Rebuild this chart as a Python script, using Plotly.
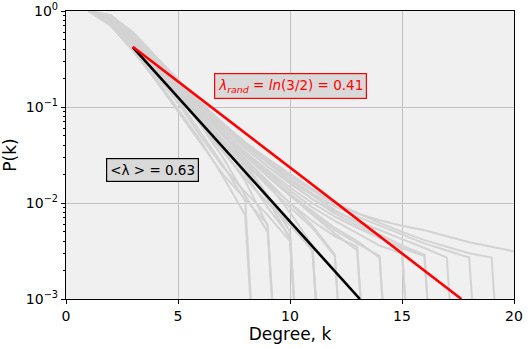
import plotly.graph_objects as go

# Degree distributions (P(k) at k = 1, 2, ...; trailing 0 = drop to zero)
curves = [
    [1, 0.72, 0.40, 0.20, 0.095, 0.045, 0.019, 0.0075, 0],
    [1, 0.78, 0.45, 0.24, 0.12, 0.055, 0.025, 0.0105, 0],
    [1, 0.70, 0.38, 0.19, 0.09, 0.042, 0.020, 0.011, 0.006, 0],
    [1, 0.80, 0.47, 0.25, 0.13, 0.065, 0.030, 0.012, 0.005, 0],
    [1, 0.85, 0.50, 0.27, 0.14, 0.070, 0.036, 0.017, 0.0058, 0],
    [1, 0.83, 0.48, 0.26, 0.14, 0.075, 0.040, 0.020, 0.009, 0.0045, 0],
    [1, 0.88, 0.52, 0.28, 0.15, 0.080, 0.042, 0.022, 0.011, 0.0042, 0],
    [1, 0.76, 0.43, 0.22, 0.11, 0.050, 0.024, 0.013, 0.0075, 0.0040, 0],
    [1, 0.90, 0.60, 0.34, 0.19, 0.100, 0.052, 0.026, 0.012, 0.0050, 0],
    [1, 0.86, 0.51, 0.29, 0.16, 0.085, 0.046, 0.024, 0.012, 0.0060, 0.0032, 0],
    [1, 0.90, 0.54, 0.30, 0.165, 0.090, 0.050, 0.028, 0.016, 0.0080, 0.0036, 0],
    [1, 0.82, 0.47, 0.25, 0.13, 0.066, 0.034, 0.018, 0.010, 0.0058, 0.0034, 0],
    [1, 0.87, 0.52, 0.29, 0.155, 0.085, 0.046, 0.026, 0.015, 0.0090, 0.0055, 0.0028, 0],
    [1, 0.89, 0.55, 0.31, 0.17, 0.094, 0.052, 0.029, 0.017, 0.010, 0.0058, 0.0029, 0],
    [1, 0.84, 0.50, 0.28, 0.15, 0.080, 0.045, 0.026, 0.016, 0.010, 0.0065, 0.0045, 0.0035, 0],
    [1, 0.90, 0.53, 0.30, 0.165, 0.092, 0.052, 0.031, 0.019, 0.012, 0.0075, 0.0048, 0.0032, 0],
    [1, 0.88, 0.52, 0.29, 0.16, 0.090, 0.052, 0.031, 0.019, 0.012, 0.0078, 0.0052, 0.0038, 0.0028, 0],
    [1, 0.90, 0.56, 0.32, 0.18, 0.100, 0.057, 0.033, 0.020, 0.0125, 0.0082, 0.0055, 0.0040, 0.0027, 0],
    [1, 0.89, 0.53, 0.30, 0.17, 0.096, 0.056, 0.034, 0.021, 0.0135, 0.0090, 0.0065, 0.0048, 0.0036, 0.0030, 0],
    [1, 0.90, 0.55, 0.31, 0.175, 0.100, 0.060, 0.037, 0.024, 0.016, 0.011, 0.0078, 0.0058, 0.0045, 0.0033, 0],
    [1, 0.87, 0.51, 0.29, 0.165, 0.095, 0.056, 0.034, 0.022, 0.0145, 0.010, 0.0072, 0.0055, 0.0043, 0.0034, 0.0028, 0],
    [1, 0.90, 0.57, 0.33, 0.19, 0.110, 0.065, 0.040, 0.026, 0.017, 0.012, 0.0085, 0.0062, 0.0047, 0.0036, 0.0029, 0],
    [1, 0.90, 0.54, 0.31, 0.18, 0.104, 0.062, 0.038, 0.024, 0.016, 0.011, 0.0082, 0.0065, 0.0052, 0.0042, 0.0034, 0.0027, 0],
    [1, 0.90, 0.56, 0.32, 0.185, 0.108, 0.065, 0.041, 0.027, 0.018, 0.0125, 0.0092, 0.0072, 0.0058, 0.0047, 0.0038, 0.0032, 0.0027, 0],
    [1, 0.89, 0.55, 0.32, 0.185, 0.110, 0.067, 0.043, 0.029, 0.020, 0.014, 0.010, 0.0078, 0.0062, 0.0050, 0.0041, 0.0035, 0.0030, 0.0027, 0],
    [1, 0.88, 0.57, 0.33, 0.19, 0.112, 0.068, 0.043, 0.028, 0.019, 0.0135, 0.0098, 0.0078, 0.0066, 0.0058, 0.0052, 0.0045, 0.0039, 0.0035, 0.0031, 0.0028],
]

# Fitted exponential lines (endpoints)
rand_k = [2.98, 17.65]
rand_p = [0.425, 0.001]
mean_k = [2.98, 13.12]
mean_p = [0.42, 0.001]

y_tick_vals = [1e-3, 1e-2, 1e-1, 1]
y_tick_text = ["10<sup>\u22123</sup>", "10<sup>\u22122</sup>", "10<sup>\u22121</sup>", "10<sup>0</sup>"]
x_tick_vals = [0, 5, 10, 15, 20]

CLIP = 1e-6  # stand-in for zero on the log axis (like matplotlib clipping)

fig = go.Figure()
for c in curves:
    ks = list(range(1, len(c) + 1))
    ps = [v if v > 0 else CLIP for v in c]
    fig.add_trace(go.Scatter(x=ks, y=ps, mode="lines",
                             line=dict(color="#d3d3d3", width=2),
                             showlegend=False, hoverinfo="skip"))

fig.add_trace(go.Scatter(x=mean_k, y=mean_p, mode="lines",
                         line=dict(color="black", width=2.6), showlegend=False))
fig.add_trace(go.Scatter(x=rand_k, y=rand_p, mode="lines",
                         line=dict(color="#ff0000", width=2.6), showlegend=False))

minor_vals = []
for d in [1e-3, 1e-2, 1e-1]:
    for m in range(2, 10):
        minor_vals.append(m * d)

font = dict(family="DejaVu Sans", size=14, color="black")

fig.update_layout(
    width=529, height=348,
    margin=dict(l=66, r=15, t=11, b=49),
    paper_bgcolor="white",
    plot_bgcolor="#f0f0f0",
    font=font,
    xaxis=dict(range=[0, 20], tickvals=x_tick_vals, ticks="outside", ticklen=4,
               tickcolor="black", showline=True, linecolor="black", linewidth=1.2,
               mirror=True, showgrid=True, gridcolor="#c2c2c2", gridwidth=1,
               zeroline=False, automargin=False,
               title=dict(text="Degree, k", standoff=4),
               tickfont=font),
    yaxis=dict(type="log", range=[-3, 0], tickvals=y_tick_vals, ticktext=y_tick_text,
               ticks="outside", ticklen=4, tickcolor="black", showline=True,
               linecolor="black", linewidth=1.2, mirror=True, showgrid=True,
               gridcolor="#c2c2c2", gridwidth=1, zeroline=False, automargin=False,
               title=dict(text="P(k)", standoff=6), tickfont=font,
               minor=dict(tickvals=minor_vals, ticks="outside", ticklen=2,
                          tickcolor="black", showgrid=False)),
    annotations=[
        dict(x=10.04, y=-0.78, xref="x", yref="y",
             text="<i>\u03bb<sub>rand</sub></i> = <i>ln</i>(3/2) = 0.41",
             showarrow=False, font=dict(family="DejaVu Sans", size=13.5, color="#ff0000"),
             bgcolor="#d9d9d9", bordercolor="#ff0000", borderwidth=1.2, borderpad=3),
        dict(x=3.84, y=-1.66, xref="x", yref="y",
             text="&lt;\u03bb &gt; = 0.63",
             showarrow=False, font=dict(family="DejaVu Sans", size=13.5, color="black"),
             bgcolor="#d9d9d9", bordercolor="black", borderwidth=1.2, borderpad=3),
    ],
)

fig.write_html("out.html", config={"displayModeBar": False},
               post_script="document.body.style.margin='0';")
